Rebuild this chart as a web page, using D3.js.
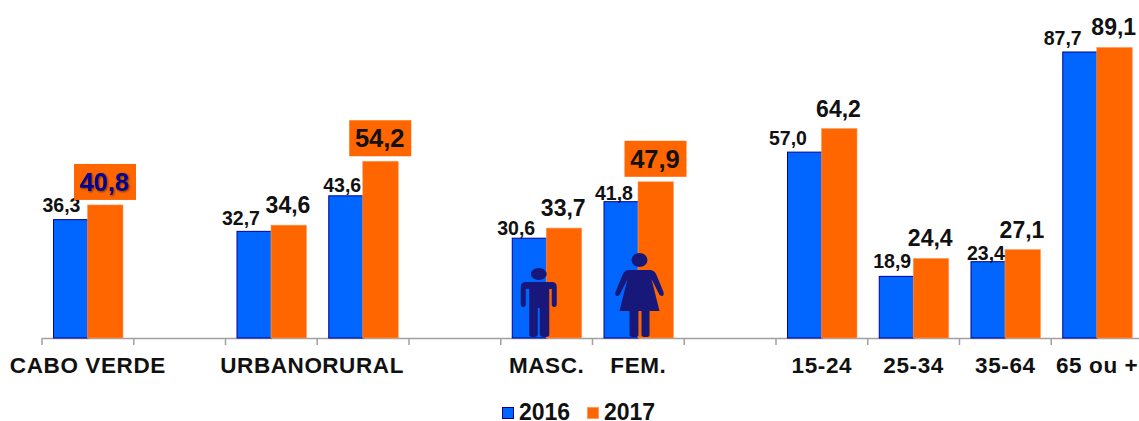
<!DOCTYPE html>
<html>
<head>
<meta charset="utf-8">
<script src="https://cdn.jsdelivr.net/npm/d3@7"></script>
<style>
  html, body { margin: 0; padding: 0; background: #fff; }
  svg { display: block; font-family: "Liberation Sans", Arial, sans-serif; font-weight: bold; }
</style>
</head>
<body>
<svg id="chart" width="1139" height="421"></svg>
<script>
// empty slots are the gaps between the groups
const categories = ["CABO VERDE", "gap1", "URBANO", "RURAL", "gap2", "MASC.", "FEM.", "gap3", "15-24", "25-34", "35-64", "65 ou +"];
const years = ["2016", "2017"];
const values2016 = [36.3, null, 32.7, 43.6, null, 30.6, 41.8, null, 57.0, 18.9, 23.4, 87.7];
const values2017 = [40.8, null, 34.6, 54.2, null, 33.7, 47.9, null, 64.2, 24.4, 27.1, 89.1];
const boxedLabels = ["CABO VERDE", "RURAL", "FEM."];

const blue = "#0066ff", orange = "#ff6600", navy = "#000099", figure = "#18187a", axisGrey = "#a0a0a0";

const baseY = 338;
const svg = d3.select("#chart");

const x = d3.scaleBand().domain(categories).range([42, 1143]);
const y = d3.scaleLinear().domain([0, 87.7]).range([baseY, 52]);
const xYear = d3.scaleBand().domain(years).range([11, 81]);

const fmt = (v) => v.toFixed(1).replace(".", ",");

// the 2016 labels were placed by hand in the original, [dx, gap above bar]
const nudge2016 = {
    "CABO VERDE": [-9, 8], "URBANO": [-13, 6], "RURAL": [-3.5, 4], "MASC.": [-13, 3], "FEM.": [-7, 2],
    "15-24": [-16.5, 7], "25-34": [-4, 8], "35-64": [-2, 1.5], "65 ou +": [-17, 7]
};

// axis
const axis = svg.append("g")
    .attr("transform", `translate(0,${baseY})`)
    .call(d3.axisBottom(x).tickSizeInner(0).tickSizeOuter(0)
        .tickFormat((d) => d.startsWith("gap") ? "" : d));
axis.select(".domain").attr("stroke", axisGrey).attr("stroke-width", 1.5);
axis.selectAll(".tick line").remove();
axis.selectAll(".tick text")
    .attr("y", 35)
    .attr("dy", 0)
    .attr("fill", "#111")
    .style("font-family", "inherit")
    .style("font-size", "22.5px")
    .style("letter-spacing", "0.6px");

// tick marks sit on the band edges
axis.selectAll("line.edge")
    .data(categories)
    .join("line")
    .attr("class", "edge")
    .attr("x1", (d) => x(d)).attr("x2", (d) => x(d))
    .attr("y1", 0).attr("y2", 7)
    .attr("stroke", axisGrey).attr("stroke-width", 1.5);

// bars
const rows = categories.map((c, i) => ({ c, v2016: values2016[i], v2017: values2017[i] }))
    .filter((d) => d.v2016 !== null);

svg.append("g").selectAll("rect")
    .data(rows)
    .join("rect")
    .attr("x", (d) => x(d.c) + xYear("2016") + 0.5)
    .attr("y", (d) => y(d.v2016))
    .attr("width", xYear.bandwidth() - 0.5)
    .attr("height", (d) => baseY - y(d.v2016))
    .attr("fill", blue)
    .attr("stroke", navy)
    .attr("stroke-width", 1);

svg.append("g").selectAll("rect")
    .data(rows)
    .join("rect")
    .attr("x", (d) => x(d.c) + xYear("2017") - 0.5)
    .attr("y", (d) => y(d.v2017))
    .attr("width", xYear.bandwidth() + 0.5)
    .attr("height", (d) => baseY - y(d.v2017))
    .attr("fill", orange)
    .attr("stroke", "#ff9a5c")
    .attr("stroke-width", 0.6);

// 2016 labels
svg.append("g").selectAll("text")
    .data(rows)
    .join("text")
    .attr("x", (d) => x(d.c) + xYear("2016") + xYear.bandwidth() / 2 + nudge2016[d.c][0])
    .attr("y", (d) => y(d.v2016) - nudge2016[d.c][1])
    .attr("text-anchor", "middle")
    .attr("fill", "#111")
    .style("font-size", "19.5px")
    .text((d) => fmt(d.v2016));

// 2017 labels, three of them on an orange box
const cx2017 = (d) => x(d.c) + xYear("2017") + xYear.bandwidth() / 2 - 1;
const boxed = rows.filter((d) => boxedLabels.includes(d.c));
const plain = rows.filter((d) => !boxedLabels.includes(d.c));

svg.append("g").selectAll("rect")
    .data(boxed)
    .join("rect")
    .attr("x", (d) => cx2017(d) - 30.5)
    .attr("y", (d) => y(d.v2017) - 41)
    .attr("width", 62)
    .attr("height", 36)
    .attr("fill", orange);

svg.append("g").selectAll("text")
    .data(plain)
    .join("text")
    .attr("x", cx2017)
    .attr("y", (d) => y(d.v2017) - 12)
    .attr("text-anchor", "middle")
    .attr("fill", "#111")
    .style("font-size", "23px")
    .text((d) => fmt(d.v2017));

svg.append("g").selectAll("text")
    .data(boxed)
    .join("text")
    .attr("x", cx2017)
    .attr("y", (d) => y(d.v2017) - 14)
    .attr("text-anchor", "middle")
    .attr("fill", (d) => d.c === "CABO VERDE" ? navy : "#111")
    .style("font-size", "25.5px")
    .style("filter", (d) => d.c === "CABO VERDE" ? "drop-shadow(1px 1px 1px rgba(60,30,0,.7))" : null)
    .text((d) => fmt(d.v2017));

// man figure, local coords with origin at the feet
const man = svg.append("g")
    .attr("transform", `translate(${x("MASC.") + xYear("2017") - 8},${baseY - 1})`)
    .attr("fill", figure);
man.append("ellipse").attr("cx", 0).attr("cy", -63).attr("rx", 8).attr("ry", 6);
man.append("path").attr("d", "M-13,-55 H13 Q18,-55 18,-50 V-33 Q18,-30 15.500,-30 Q13,-30 13,-33 V-48 H10.500 V-2 Q10.500,0 5,0 Q1,0 1,-3 V-29 H-1 V-3 Q-1,0 -5,0 Q-9.500,0 -9.500,-2 V-48 H-13 V-33 Q-13,-30 -15.500,-30 Q-18,-30 -18,-33 V-50 Q-18,-55 -13,-55 Z");

// woman figure
const woman = svg.append("g")
    .attr("transform", `translate(${x("FEM.") + xYear("2017") + 1},${baseY - 1})`)
    .attr("fill", figure);
woman.append("ellipse").attr("cx", 0).attr("cy", -77).attr("rx", 8).attr("ry", 7);
woman.append("path").attr("d", "M-10,-67 H10 Q15,-67 17,-62 L24,-45 Q25,-41 22,-41 Q20,-41 19,-44 L12,-58 L20,-26 H10 V-2 Q10,0 6,0 Q2,0 2,-2 V-26 H-1 V-2 Q-1,0 -5,0 Q-10,0 -10,-2 V-26 H-20 L-12,-58 L-19,-44 Q-20,-41 -22,-41 Q-25,-41 -24,-45 L-17,-62 Q-15,-67 -10,-67 Z");

// legend
const legendX = d3.scaleOrdinal().domain(years).range([502, 587]);
const legendColor = d3.scaleOrdinal().domain(years).range([blue, orange]);
const legend = svg.append("g").selectAll("g")
    .data(years)
    .join("g")
    .attr("transform", (d) => `translate(${legendX(d)},0)`);
legend.append("rect")
    .attr("x", 0.5).attr("y", 407.5)
    .attr("width", 11).attr("height", 11)
    .attr("fill", legendColor)
    .attr("stroke", (d) => d === "2016" ? navy : "#ff9a5c")
    .attr("stroke-width", 1);
legend.append("text")
    .attr("x", 17).attr("y", 420)
    .attr("fill", "#111")
    .style("font-size", "23px")
    .text((d) => d);
</script>
</body>
</html>
